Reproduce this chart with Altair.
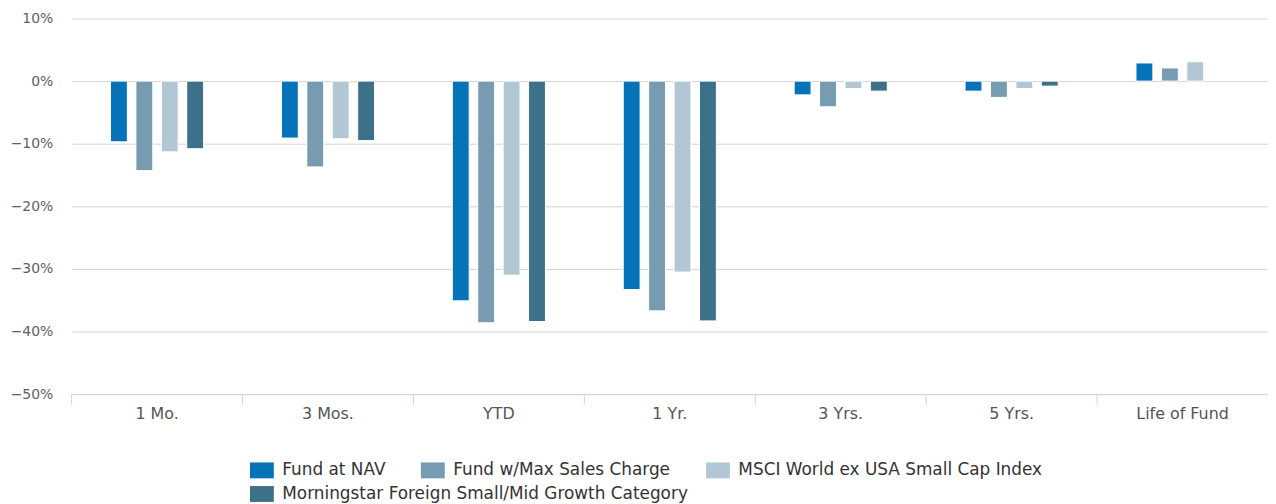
import altair as alt
import pandas as pd

periods = ["1 Mo.", "3 Mos.", "YTD", "1 Yr.", "3 Yrs.", "5 Yrs.", "Life of Fund"]
series = [
    "Fund at NAV",
    "Fund w/Max Sales Charge",
    "MSCI World ex USA Small Cap Index",
    "Morningstar Foreign Small/Mid Growth Category",
]
colors = ["#0673b9", "#779bb0", "#b1c8d4", "#3d7189"]

fund_nav = [-9.7, -9.1, -35.1, -33.3, -2.2, -1.6, 2.9]
fund_max = [-14.3, -13.7, -38.6, -36.7, -4.1, -2.6, 2.1]
msci = [-11.3, -9.2, -31.0, -30.5, -1.2, -1.2, 3.1]
morningstar = [-10.8, -9.5, -38.4, -38.3, -1.6, -0.8, None]

y_ticks = [10, 0, -10, -20, -30, -40, -50]

rows = []
for name, vals in zip(series, [fund_nav, fund_max, msci, morningstar]):
    for p, v in zip(periods, vals):
        if v is not None:
            rows.append({"period": p, "series": name, "value": v})
df = pd.DataFrame(rows)
df_first = df[df["series"].isin(series[:3])]
df_last = df[df["series"] == series[3]]
df_periods = pd.DataFrame({"period": periods})

# empty slots on each side of a group, to keep bars narrow and centred
offset_domain = ["_left"] + series + ["_right"]

FONT = "DejaVu Sans"
W, H = 1204, 378
LEG_X, LEG_Y = 183, 446

x_enc = alt.X(
    "period:N",
    sort=periods,
    scale=alt.Scale(domain=periods, paddingInner=0, paddingOuter=0),
    axis=alt.Axis(
        title=None,
        ticks=False,
        labelAngle=0,
        labelFont=FONT,
        labelFontSize=16,
        labelColor="#555555",
        labelPadding=12,
        domainColor="#ccd6eb",
        domainWidth=1,
        grid=False,
    ),
)
xoff_enc = alt.XOffset(
    "series:N",
    scale=alt.Scale(domain=offset_domain, paddingInner=0.336, paddingOuter=0.53),
)
y_enc = alt.Y(
    "value:Q",
    scale=alt.Scale(domain=[-50, 10], nice=False, zero=True),
    axis=alt.Axis(
        title=None,
        values=y_ticks,
        labelExpr="format(datum.value, 'd') + '%'",
        domain=False,
        ticks=False,
        labelFont=FONT,
        labelFontSize=14,
        labelColor="#606060",
        labelPadding=19,
        gridColor="#d3d3d3",
        gridWidth=1,
    ),
)


def legend(y):
    return alt.Legend(
        title=None,
        orient="none",
        direction="horizontal",
        legendX=LEG_X,
        legendY=y,
        symbolType="M-1.5,-1H1.5V1H-1.5Z",
        symbolSize=256,
        symbolStrokeWidth=0,
        symbolOpacity=1,
        labelFont=FONT,
        labelFontSize=17,
        labelColor="#333333",
        labelOffset=12,
        labelLimit=800,
        columnPadding=35,
        padding=0,
    )


bars_a = alt.Chart(df_first).mark_bar(stroke="white", strokeWidth=1).encode(
    x=x_enc,
    xOffset=xoff_enc,
    y=y_enc,
    color=alt.Color(
        "series:N",
        sort=series[:3],
        scale=alt.Scale(domain=series[:3], range=colors[:3]),
        legend=legend(LEG_Y),
    ),
)

bars_b = alt.Chart(df_last).mark_bar(stroke="white", strokeWidth=1).encode(
    x=x_enc,
    xOffset=xoff_enc,
    y=y_enc,
    fill=alt.Fill(
        "series:N",
        scale=alt.Scale(domain=series[3:], range=colors[3:]),
        legend=legend(LEG_Y + 24),
    ),
)

ticks = alt.Chart(df_periods).mark_rule(color="#ccd6eb", strokeWidth=1).encode(
    x=alt.X("period:N", sort=periods, bandPosition=0),
    y=alt.value(H),
    y2=alt.value(H + 11),
)

chart = (
    alt.layer(bars_a, bars_b, ticks)
    .properties(
        width=W,
        height=H,
        autosize=alt.AutoSizeParams(type="none"),
        padding={"left": 64, "top": 9, "right": 0, "bottom": 109},
        background="white",
    )
    .configure_view(strokeWidth=0)
)

chart.save("out.html", embed_options={"renderer": "svg", "actions": False})
